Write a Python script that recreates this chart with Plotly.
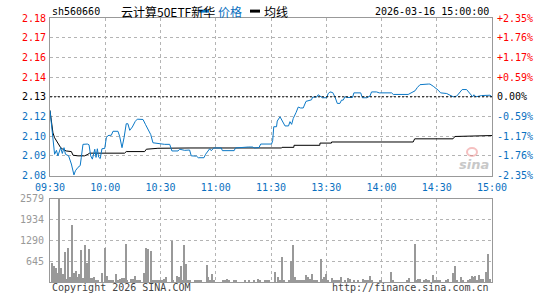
import plotly.graph_objects as go

# ---------------- data ----------------
prev_close = 2.13
time_ticks = [0, 30, 60, 90, 120, 150, 180, 210, 240]
time_labels = ["09:30", "10:00", "10:30", "11:00", "11:30", "13:30", "14:00", "14:30", "15:00"]

pct_ticks = [2.35, 1.76, 1.17, 0.59, 0.00, -0.59, -1.17, -1.76, -2.35]
pct_labels = ["+2.35%", "+1.76%", "+1.17%", "+0.59%", "0.00%", "-0.59%", "-1.17%", "-1.76%", "-2.35%"]
price_labels = ["2.18", "2.17", "2.16", "2.14", "2.13", "2.12", "2.10", "2.09", "2.08"]

vol_ticks = [645, 1290, 1934, 2579]

price_t = [0, 1, 2.5, 3.5, 4.3, 5.8, 6.7, 7.6, 8.4, 10.1, 11.6, 13, 13.8, 15.2, 16.4, 17, 17.9,
           20.3, 21.2, 22.1, 23, 24.3, 25, 25.7, 26.4, 27.3, 28.2, 29.7, 30.6, 31.5, 33.3, 34.2,
           36.9, 37.8, 39.1, 40.2, 41.4, 42.3, 43.3, 44.7, 46.3, 47.4, 50.5, 51.9, 53.2, 54.7,
           55.9, 59.5, 62.2, 65, 66.2, 69.5, 70.4, 73.1, 75.8, 76.7, 79.6, 80.5, 83.6, 84.5,
           85.5, 86.7, 87.5, 88.3, 89, 93, 93.6, 100, 100.7, 107.7, 110, 111, 113.5, 114.4,
           120.3, 120.9, 121.5, 123, 123.4, 124.9, 126, 127.6, 129.5, 130.3, 131.2, 132.1,
           133.6, 134.8, 136, 137.5, 139, 140.5, 142, 142.6, 144.8, 145.6, 146.5, 147.9, 150.2,
           151, 152, 153.5, 154.7, 156, 157.4, 158.3, 159.2, 160.2, 161.1, 164.3, 165, 168.7,
           169.6, 171.9, 173.7, 174.6, 177.3, 178.8, 185.5, 186.4, 194.5, 196.3, 198.2, 199.4,
           200.9, 205.4, 206.3, 208.1, 209.6, 210.8, 212.1, 215.4, 217.2, 219, 220.8, 221.7,
           223.8, 226.2, 227.6, 228.9, 229.5, 230.2, 231.3, 234.4, 238.9, 240]
price_v = [2.1213, 2.1092, 2.0935, 2.0960, 2.0925, 2.0977, 2.0940, 2.0977, 2.0935, 2.0925,
           2.0873, 2.0804, 2.0830, 2.0852, 2.0863, 2.0915, 2.0998, 2.1000, 2.0995, 2.0925,
           2.0904, 2.0967, 2.0915, 2.0970, 2.0917, 2.0908, 2.0970, 2.0972, 2.1040, 2.1054,
           2.1056, 2.1081, 2.1081, 2.1050, 2.0977, 2.1040, 2.1129, 2.1129, 2.1087, 2.1108,
           2.1144, 2.1158, 2.1156, 2.1123, 2.1092, 2.1060, 2.1008, 2.1000, 2.0998, 2.0998,
           2.0956, 2.0956, 2.0967, 2.0960, 2.0962, 2.0925, 2.0923, 2.0913, 2.0913, 2.0935,
           2.0950, 2.0970, 2.0958, 2.0965, 2.0975, 2.0975, 2.0958, 2.0958, 2.0975, 2.0981,
           2.0981, 2.0975, 2.0978, 2.1000, 2.1000, 2.1021, 2.1110, 2.1110, 2.1146, 2.1173,
           2.1152, 2.1115, 2.1115, 2.1142, 2.1125, 2.1163, 2.1200, 2.1235, 2.1229, 2.1229,
           2.1271, 2.1277, 2.1281, 2.1298, 2.1298, 2.1313, 2.1304, 2.1294, 2.1294, 2.1319,
           2.1331, 2.1327, 2.1300, 2.1258, 2.1258, 2.1279, 2.1279, 2.1300, 2.1296, 2.1296,
           2.1325, 2.1325, 2.1294, 2.1294, 2.1304, 2.1331, 2.1331, 2.1325, 2.1325, 2.1315,
           2.1315, 2.1325, 2.1338, 2.1358, 2.1377, 2.1381, 2.1381, 2.1367, 2.1356, 2.1342,
           2.1325, 2.1321, 2.1310, 2.1300, 2.1304, 2.1315, 2.1346, 2.1346, 2.1327, 2.1308,
           2.1300, 2.1313, 2.1300, 2.1308, 2.1310, 2.1300]

avg_t = [0, 1.1, 1.6, 2.5, 4.3, 5.8, 7, 8.8, 11.6, 12.5, 15.2, 18.8, 20.6, 21.5, 40.5, 41.4,
         51.4, 52.3, 58.6, 76, 125.8, 126, 132.4, 132.5, 146.5, 146.6, 152.8, 152.9, 197.2,
         198, 218.8, 219.9, 240]
avg_v = [2.1213, 2.1113, 2.1071, 2.1040, 2.1008, 2.0977, 2.0967, 2.0956, 2.0952, 2.0929,
         2.0925, 2.0925, 2.0935, 2.0942, 2.0942, 2.0952, 2.0952, 2.0967, 2.0973, 2.0975,
         2.0975, 2.0979, 2.0979, 2.0992, 2.0992, 2.1006, 2.1006, 2.1013, 2.1013, 2.1033,
         2.1033, 2.1048, 2.1054]

vol_t = [1, 2, 3, 4, 5, 6, 7, 8, 9, 10, 11, 12, 13, 14, 15, 16, 17, 18, 19, 20, 21, 22, 23, 24,
         25, 26, 28, 30, 31, 32, 33, 34, 36, 37, 38, 39, 40, 41, 42, 44, 45, 46, 47, 48, 49, 51,
         52, 53, 55, 56, 57, 58, 59, 60, 61, 62, 63, 66, 67, 69, 70, 71, 72, 73, 74, 75, 76, 79,
         80, 81, 82, 85, 86, 87, 88, 89, 94, 95, 96, 97, 100, 101, 106, 108, 111, 113, 114, 117,
         118, 119, 122, 124, 125, 126, 127, 130, 131, 132, 133, 134, 135, 136, 137, 138, 139,
         140, 141, 142, 143, 144, 145, 147, 148, 149, 150, 151, 153, 154, 155, 156, 157, 158,
         160, 162, 163, 165, 167, 170, 171, 172, 173, 174, 175, 179, 180, 185, 186, 194, 195,
         198, 199, 200, 201, 203, 204, 205, 206, 208, 209, 210, 211, 212, 215, 216, 219, 220,
         221, 223, 224, 227, 228, 229, 230, 231, 232, 233, 234, 235, 237, 238, 239]
vol_v = [604, 512, 450, 266, 2579, 450, 235, 941, 92, 1064, 153, 1760, 266, 358, 153, 235, 1003,
         123, 1156, 604, 1033, 123, 123, 143, 51, 51, 266, 1054, 174, 51, 72, 72, 235, 51, 82,
         113, 113, 1187, 51, 82, 92, 174, 51, 51, 51, 266, 1064, 1033, 972, 51, 51, 51, 51, 61,
         72, 92, 153, 1279, 51, 174, 143, 512, 61, 1156, 573, 51, 51, 51, 51, 51, 51, 542, 153,
         61, 235, 51, 51, 51, 92, 51, 51, 51, 51, 51, 51, 92, 51, 51, 51, 51, 297, 143, 51, 788,
         72, 51, 665, 1156, 143, 51, 51, 51, 51, 72, 205, 143, 92, 235, 51, 51, 51, 726, 92,
         143, 235, 51, 123, 51, 51, 51, 51, 143, 51, 113, 82, 51, 51, 92, 51, 51, 51, 174, 51,
         51, 51, 297, 51, 51, 113, 1187, 51, 92, 92, 51, 92, 51, 51, 205, 51, 51, 51, 51, 51,
         92, 266, 512, 51, 143, 51, 51, 92, 174, 143, 174, 51, 205, 92, 92, 297, 880, 92]

# ---------------- style ----------------
BLUE = "#0b78c6"
LBLUE = "#0a70c0"
RED = "#ff0000"
GRID = "#b4b4b4"
BORDER = "#999999"
MONO = "DejaVu Sans Mono"
CJK = "Noto Sans CJK SC"

W, H = 545, 300
ML, MR, MT, MB = 50, 53, 18, 14
PW, PH = W - ML - MR, H - MT - MB


def px(x):
    return (x - ML) / PW


def py(y):
    return (H - MB - y) / PH


main_bottom, vol_top = py(178), py(201.7)

pct_pos = [prev_close * (1 + p / 100) for p in pct_ticks]
yr = [prev_close * (1 - 2.35 / 100), prev_close * (1 + 2.35 / 100)]


def pct_color(p):
    return RED if p > 0 else ("#000000" if p == 0 else LBLUE)


right_text = [f"<span style='color:{pct_color(p)}'>{t}</span>" for p, t in zip(pct_ticks, pct_labels)]
left_text = [f"<span style='color:{pct_color(p)}'>{t}</span>" for p, t in zip(pct_ticks, price_labels)]

fig = go.Figure()
fig.add_trace(go.Scatter(x=avg_t, y=avg_v, mode="lines", line=dict(color="#000000", width=1),
                         xaxis="x", yaxis="y", hoverinfo="skip"))
fig.add_trace(go.Scatter(x=price_t, y=price_v, mode="lines", line=dict(color=BLUE, width=1),
                         xaxis="x", yaxis="y", hoverinfo="skip"))
fig.add_trace(go.Bar(x=vol_t, y=vol_v, width=0.55, marker=dict(color="#999999", line=dict(width=0)),
                     xaxis="x2", yaxis="y2", hoverinfo="skip"))

axis_common = dict(showline=True, mirror=True, linecolor=BORDER, linewidth=1, zeroline=False,
                   fixedrange=True)

fig.update_layout(
    width=W, height=H, autosize=False, showlegend=False,
    margin=dict(l=ML, r=MR, t=MT, b=MB, pad=0),
    paper_bgcolor="white", plot_bgcolor="white",
    font=dict(family=MONO, size=10, color="#000000"),
    xaxis=dict(domain=[0, 1], anchor="y", range=[0, 240], tickvals=time_ticks, ticktext=time_labels,
               tickfont=dict(color=LBLUE, size=10, family=MONO), showgrid=True, gridcolor=GRID,
               griddash="dot", gridwidth=1, ticks="", ticklabelstandoff=2, **axis_common),
    yaxis=dict(domain=[main_bottom, 1], anchor="x", side="right", range=yr, tickvals=pct_pos,
               ticktext=right_text, showgrid=True, gridcolor=GRID, griddash="dot", ticks="",
               ticklabelstandoff=2, tickfont=dict(size=10, family=MONO), **axis_common),
    yaxis3=dict(overlaying="y", side="left", range=yr, tickvals=pct_pos, ticktext=left_text,
                showgrid=False, ticks="", ticklabelstandoff=3, tickfont=dict(size=10, family=MONO),
                showline=False, zeroline=False, fixedrange=True),
    xaxis2=dict(domain=[0, 1], anchor="y2", range=[0, 240], tickvals=time_ticks, showticklabels=False,
                showgrid=True, gridcolor=GRID, griddash="dot", ticks="", **axis_common),
    yaxis2=dict(domain=[0, vol_top], anchor="x2", range=[0, vol_ticks[-1]], tickvals=vol_ticks,
                ticktext=[str(v) for v in vol_ticks], showgrid=True, gridcolor=GRID, griddash="dot",
                ticks="", ticklabelstandoff=3, tickfont=dict(color="#999999", size=10, family=MONO),
                **axis_common),
    bargap=0,
)
# invisible trace so the left price axis renders its labels
fig.add_trace(go.Scatter(x=[0], y=[prev_close], mode="markers", marker=dict(opacity=0),
                         xaxis="x", yaxis="y3", hoverinfo="skip"))

# previous close reference line
fig.add_shape(type="line", xref="x domain", yref="y", x0=0, x1=1, y0=prev_close, y1=prev_close,
              line=dict(color="#000000", width=1, dash="2px,2px"))

# header / footer
title_y = py(11)
anns = [
    dict(text="sh560660", x=px(50), y=title_y, xanchor="left", font=dict(family=MONO, size=10, color="#000")),
    dict(text="云计算50ETF新华", x=px(119), y=title_y, xanchor="left", font=dict(family=CJK, size=12, color="#000")),
    dict(text="价格", x=px(216), y=title_y, xanchor="left", font=dict(family=CJK, size=12, color=LBLUE)),
    dict(text="均线", x=px(262), y=title_y, xanchor="left", font=dict(family=CJK, size=12, color="#000")),
    dict(text="2026-03-16 15:00:00", x=px(491), y=title_y, xanchor="right",
         font=dict(family=MONO, size=10, color="#000")),
    dict(text="Copyright 2026 SINA.COM", x=px(50), y=py(292), xanchor="left",
         font=dict(family=MONO, size=10, color="#444")),
    dict(text="http://finance.sina.com.cn", x=px(491), y=py(292), xanchor="right",
         font=dict(family=MONO, size=10, color="#444")),
    dict(text="<b><i>sina</i></b>", x=px(474), y=py(167), xanchor="center",
         font=dict(family="DejaVu Sans", size=13, color="#c8c8c8")),
]
for a in anns:
    fig.add_annotation(xref="paper", yref="paper", showarrow=False, yanchor="middle", **a)

# sina eye logo (decorative)
fig.add_shape(type="circle", xref="paper", yref="paper", x0=px(467), x1=px(477), y0=py(158), y1=py(150),
              line=dict(color="rgba(235,130,130,0.5)", width=2), fillcolor="rgba(255,255,255,0)")

# legend swatches
fig.add_shape(type="line", xref="paper", yref="paper", x0=px(199), x1=px(209), y0=title_y, y1=title_y,
              line=dict(color=BLUE, width=3))
fig.add_shape(type="line", xref="paper", yref="paper", x0=px(250), x1=px(260), y0=title_y, y1=title_y,
              line=dict(color="#000000", width=3))

fig.write_html("out.html", config={"displayModeBar": False})
